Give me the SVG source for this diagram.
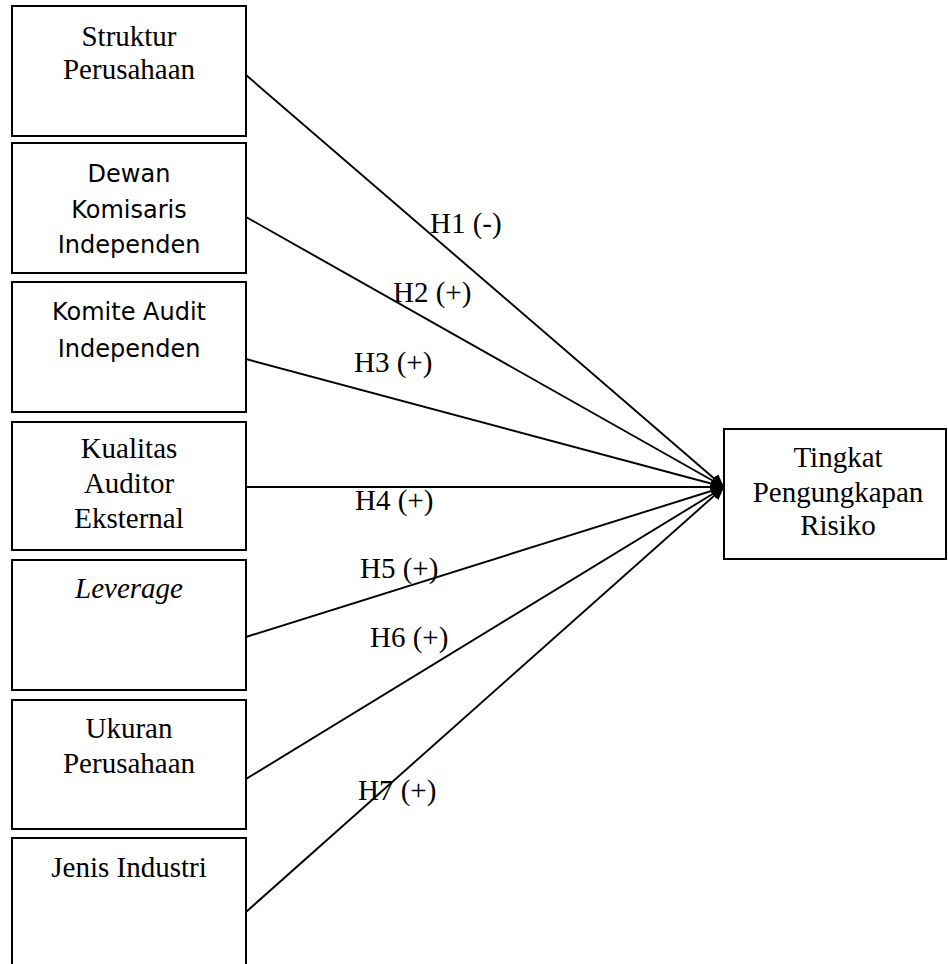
<svg xmlns="http://www.w3.org/2000/svg" width="948" height="964" viewBox="0 0 948 964">
<style>
.box{fill:#fff;stroke:#000;stroke-width:2}
.serif{font-family:"Liberation Serif","Times New Roman",serif;font-size:29px;fill:#000;text-anchor:middle}
.sans{font-family:"DejaVu Sans",sans-serif;font-size:24px;fill:#000;text-anchor:middle}
.lbl{font-family:"Liberation Serif","Times New Roman",serif;font-size:29px;fill:#000}
.conn{stroke:#000;stroke-width:1.9;fill:none;marker-end:url(#ah)}
</style>
<defs>
<marker id="ah" markerUnits="userSpaceOnUse" markerWidth="14" markerHeight="12" refX="13" refY="6" orient="auto">
<path d="M0,0 L13,6 L0,12 z" fill="#000"/>
</marker>
</defs>
<rect width="948" height="964" fill="#fff"/>
<g id="n1"><rect class="box" x="12" y="6" width="234" height="130"/><text class="serif" x="129" y="46">Struktur</text><text class="serif" x="129" y="79">Perusahaan</text></g>
<g id="n2"><rect class="box" x="12" y="143" width="234" height="130"/><text class="sans" x="129" y="182">Dewan</text><text class="sans" x="129" y="218">Komisaris</text><text class="sans" x="129" y="253">Independen</text></g>
<g id="n3"><rect class="box" x="12" y="282" width="234" height="130"/><text class="sans" x="129" y="320">Komite Audit</text><text class="sans" x="129" y="357">Independen</text></g>
<g id="n4"><rect class="box" x="12" y="422" width="234" height="128"/><text class="serif" x="129" y="458">Kualitas</text><text class="serif" x="129" y="493">Auditor</text><text class="serif" x="129" y="528">Eksternal</text></g>
<g id="n5"><rect class="box" x="12" y="560" width="234" height="130"/><text class="serif" x="129" y="598" font-style="italic">Leverage</text></g>
<g id="n6"><rect class="box" x="12" y="700" width="234" height="129"/><text class="serif" x="129" y="738">Ukuran</text><text class="serif" x="129" y="773">Perusahaan</text></g>
<g id="n7"><rect class="box" x="12" y="838" width="234" height="140"/><text class="serif" x="129" y="877">Jenis Industri</text></g>
<g id="n8"><rect class="box" x="724" y="429" width="222" height="130"/><text class="serif" x="838" y="467">Tingkat</text><text class="serif" x="838" y="502">Pengungkapan</text><text class="serif" x="838" y="535">Risiko</text></g>
<g id="connectors">
<line class="conn" x1="246" y1="75" x2="724" y2="487"/>
<line class="conn" x1="246" y1="217" x2="724" y2="487"/>
<line class="conn" x1="246" y1="359" x2="724" y2="487"/>
<line class="conn" x1="246" y1="487" x2="724" y2="487"/>
<line class="conn" x1="246" y1="637" x2="724" y2="487"/>
<line class="conn" x1="246" y1="779" x2="724" y2="487"/>
<line class="conn" x1="246" y1="912" x2="724" y2="487"/>
<text class="lbl" x="430" y="233">H1 (-)</text>
<text class="lbl" x="393" y="302">H2 (+)</text>
<text class="lbl" x="354" y="372">H3 (+)</text>
<text class="lbl" x="355" y="510">H4 (+)</text>
<text class="lbl" x="360" y="578">H5 (+)</text>
<text class="lbl" x="370" y="647">H6 (+)</text>
<text class="lbl" x="358" y="800">H7 (+)</text>
</g>
</svg>
